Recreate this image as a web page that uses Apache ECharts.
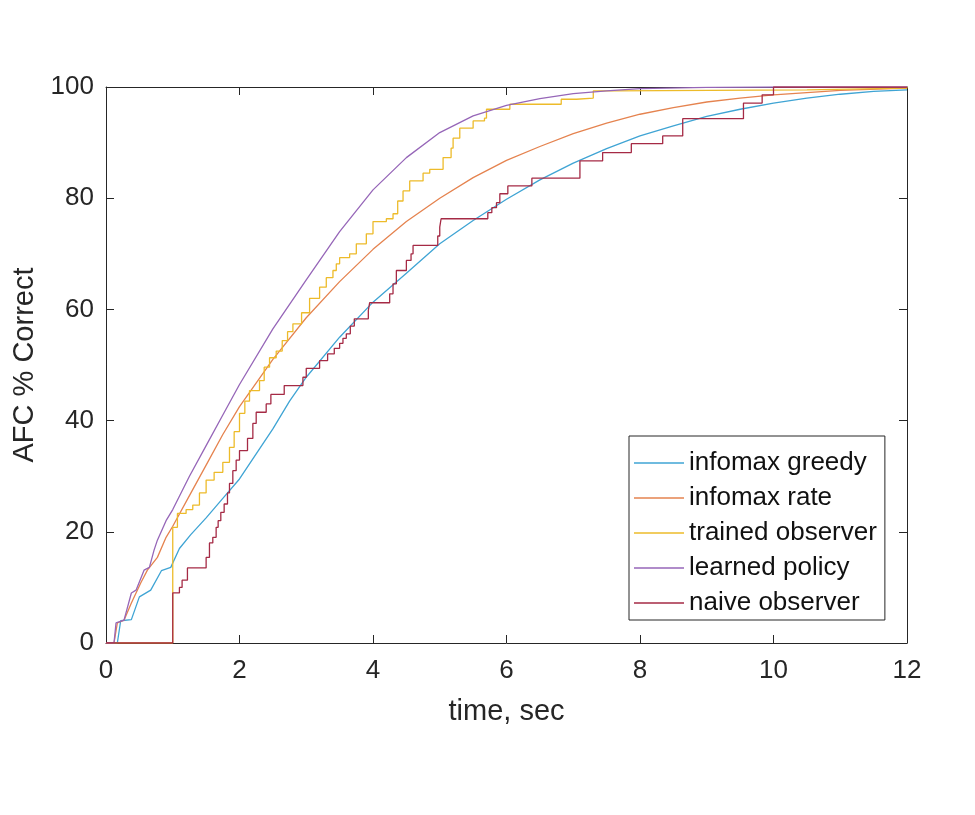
<!DOCTYPE html>
<html>
<head>
<meta charset="utf-8">
<script src="https://cdn.jsdelivr.net/npm/echarts@6/dist/echarts.min.js"></script>
<style>
  html, body { margin: 0; padding: 0; background: #fff; }
  #afcChart { width: 975px; height: 815px; }
</style>
</head>
<body>
<div id="afcChart"></div>
<script>
// series names (legend order)
const seriesNames = ['infomax greedy', 'infomax rate', 'trained observer', 'learned policy', 'naive observer'];

// infomax greedy (smooth)
const greedyX = [0, 0.17, 0.22, 0.38, 0.5, 0.67, 0.83, 0.97, 1.1, 1.27, 1.5, 1.75, 2, 2.25, 2.5, 2.75, 3, 3.5, 4, 4.5, 5, 5.5, 6, 6.5, 7, 7.5, 8, 8.5, 9, 9.5, 10, 10.5, 11, 11.5, 12];
const greedyY = [0, 0, 4, 4.2, 8.3, 9.5, 13, 13.6, 17, 19.5, 22.5, 26, 29.5, 34, 38.5, 43.5, 47.8, 55, 61.3, 66.5, 71.8, 76, 79.8, 83.3, 86.3, 88.9, 91.2, 93, 94.7, 96, 97.1, 98, 98.7, 99.2, 99.5];

// infomax rate (smooth)
const rateX = [0, 0.12, 0.17, 0.27, 0.38, 0.52, 0.62, 0.77, 0.9, 1, 1.25, 1.5, 1.75, 2, 2.5, 3, 3.5, 4, 4.5, 5, 5.5, 6, 6.5, 7, 7.5, 8, 8.5, 9, 9.5, 10, 11, 12];
const rateY = [0, 0, 3.6, 4.1, 7.2, 10.8, 13.1, 15.4, 19, 21, 26.5, 32, 37.5, 42.5, 51, 58.5, 65, 70.8, 75.8, 80, 83.7, 86.8, 89.3, 91.6, 93.5, 95.1, 96.3, 97.3, 98, 98.6, 99.4, 99.8];

// trained observer (staircase)
const trainedX = [0, 1.0, 1.07, 1.2, 1.3, 1.4, 1.5, 1.62, 1.75, 1.85, 1.92, 2.0, 2.08, 2.15, 2.3, 2.37, 2.45, 2.55, 2.64, 2.72, 2.8, 2.93, 3.05, 3.2, 3.3, 3.4, 3.45, 3.5, 3.65, 3.75, 3.9, 4.0, 4.2, 4.3, 4.37, 4.45, 4.55, 4.75, 4.85, 5.05, 5.17, 5.2, 5.3, 5.5, 5.67, 5.7, 6.05, 6.82, 7.05, 7.3, 7.6, 10.5, 12];
const trainedY = [0, 20.8, 23.3, 24, 24.8, 27, 29.3, 30.7, 32.5, 35.2, 38, 41.3, 43.5, 45.4, 47.2, 49.6, 51.3, 52.5, 54.4, 56, 57.4, 59.4, 62, 64, 65.7, 67, 68.2, 69.3, 70, 71.8, 73.6, 75.8, 76.3, 77.2, 79.5, 81.3, 83.1, 84.5, 85.2, 87.3, 89, 90.8, 92.6, 93.9, 94.4, 96, 96.9, 97.8, 98, 99.3, 99.5, 99.8, 100];

// learned policy (smooth)
const learnedX = [0, 0.12, 0.15, 0.27, 0.38, 0.45, 0.57, 0.65, 0.72, 0.77, 0.9, 1, 1.25, 1.5, 1.75, 2, 2.5, 3, 3.5, 4, 4.5, 5, 5.5, 6, 6.5, 7, 7.5, 8, 9, 10, 12];
const learnedY = [0, 0, 3.6, 4.1, 9, 9.5, 13.1, 13.6, 16.7, 18.5, 22, 24, 30, 35.5, 41, 46.5, 56.5, 65.3, 74, 81.5, 87.3, 91.8, 94.8, 96.7, 97.9, 98.8, 99.3, 99.7, 99.95, 100, 100];

// naive observer (staircase)
const naiveX = [0, 1.0, 1.1, 1.14, 1.22, 1.5, 1.55, 1.6, 1.65, 1.68, 1.72, 1.77, 1.82, 1.85, 1.9, 1.95, 2.0, 2.12, 2.2, 2.25, 2.4, 2.47, 2.67, 2.95, 3.0, 3.2, 3.32, 3.42, 3.5, 3.55, 3.6, 3.66, 3.72, 3.93, 3.95, 4.25, 4.3, 4.35, 4.5, 4.57, 4.6, 4.97, 5.0, 5.02, 5.72, 5.78, 5.85, 5.9, 6.02, 6.38, 7.1, 7.44, 7.87, 8.34, 8.64, 9.55, 9.83, 10.0, 12];
const naiveY = [0, 9, 10, 11.3, 13.5, 15.4, 18, 19, 20.8, 22, 23.5, 25, 27, 28.7, 31, 32.9, 34.6, 36.8, 39.5, 41.5, 43, 44.7, 46.3, 47.8, 49.4, 50.8, 52, 53, 53.9, 54.8, 55.6, 57, 58.3, 59.8, 61.2, 62.8, 64.6, 67, 68.8, 70, 71.5, 73.2, 74.8, 76.3, 77.4, 78.3, 79.2, 80.8, 82.2, 83.6, 86.7, 88.2, 89.8, 91.2, 94.3, 97.1, 98.6, 100, 100];

// axis ticks
const xTicks = [0, 2, 4, 6, 8, 10, 12];
const yTicks = [0, 20, 40, 60, 80, 100];

const colors = ['#3fa4d4', '#e5834f', '#edbb2a', '#9666b8', '#a52a45'];
const textColor = '#262626';
const fontFam = '"Liberation Sans", Arial, sans-serif';

function zip(xs, ys) {
    return xs.map((x, i) => [x, ys[i]]);
}

let chart = echarts.init(document.getElementById('afcChart'));

const lineData = [
    { xs: greedyX, ys: greedyY, step: false },
    { xs: rateX, ys: rateY, step: false },
    { xs: trainedX, ys: trainedY, step: 'end' },
    { xs: learnedX, ys: learnedY, step: false },
    { xs: naiveX, ys: naiveY, step: 'end' }
];

const series = lineData.map((d, i) => ({
    name: seriesNames[i],
    type: 'line',
    data: zip(d.xs, d.ys),
    step: d.step,
    symbol: 'none',
    smooth: false,
    animation: false,
    lineStyle: { width: 1.3, color: colors[i] },
    itemStyle: { color: colors[i] },
    z: 3
}));

function baseAxis(extra) {
    return Object.assign({
        type: 'value',
        axisLine: { show: true, onZero: false, lineStyle: { color: textColor, width: 1 } },
        axisTick: { show: true, inside: true, length: 8, lineStyle: { color: textColor } },
        splitLine: { show: false },
        axisLabel: { color: textColor, fontSize: 26, fontFamily: fontFam }
    }, extra);
}

chart.setOption({
    animation: false,
    backgroundColor: '#fff',
    grid: { left: 106, right: 68, top: 87, bottom: 172 },
    legend: {
        data: seriesNames,
        // thin bar used as a line sample
        icon: 'path://M0,0 L50,0 L50,1.4 L0,1.4 Z',
        orient: 'vertical',
        left: 629,
        top: 436,
        padding: [14, 8, 4, 5],
        itemGap: 9,
        itemWidth: 50,
        itemHeight: 26,
        itemTextGap: 3,
        borderColor: textColor,
        borderWidth: 1,
        backgroundColor: '#fff',
        textStyle: { color: '#111', fontSize: 26, fontFamily: fontFam, lineHeight: 26 }
    },
    xAxis: [
        baseAxis({
            min: 0, max: 12, interval: 2,
            position: 'bottom',
            name: 'time, sec',
            nameLocation: 'middle',
            nameGap: 54,
            nameTextStyle: { color: textColor, fontSize: 29, fontFamily: fontFam },
            axisLabel: { color: textColor, fontSize: 26, fontFamily: fontFam, margin: 15,
                formatter: v => xTicks.includes(v) ? String(v) : '' }
        }),
        baseAxis({
            min: 0, max: 12, interval: 2,
            position: 'top',
            axisLabel: { show: false }
        })
    ],
    yAxis: [
        baseAxis({
            min: 0, max: 100, interval: 20,
            position: 'left',
            name: 'AFC % Correct',
            nameLocation: 'middle',
            nameGap: 64,
            nameTextStyle: { color: textColor, fontSize: 29, fontFamily: fontFam },
            axisLabel: { color: textColor, fontSize: 26, fontFamily: fontFam, margin: 12,
                formatter: v => yTicks.includes(v) ? String(v) : '' }
        }),
        baseAxis({
            min: 0, max: 100, interval: 20,
            position: 'right',
            axisLabel: { show: false }
        })
    ],
    series: series
});
</script>
</body>
</html>
